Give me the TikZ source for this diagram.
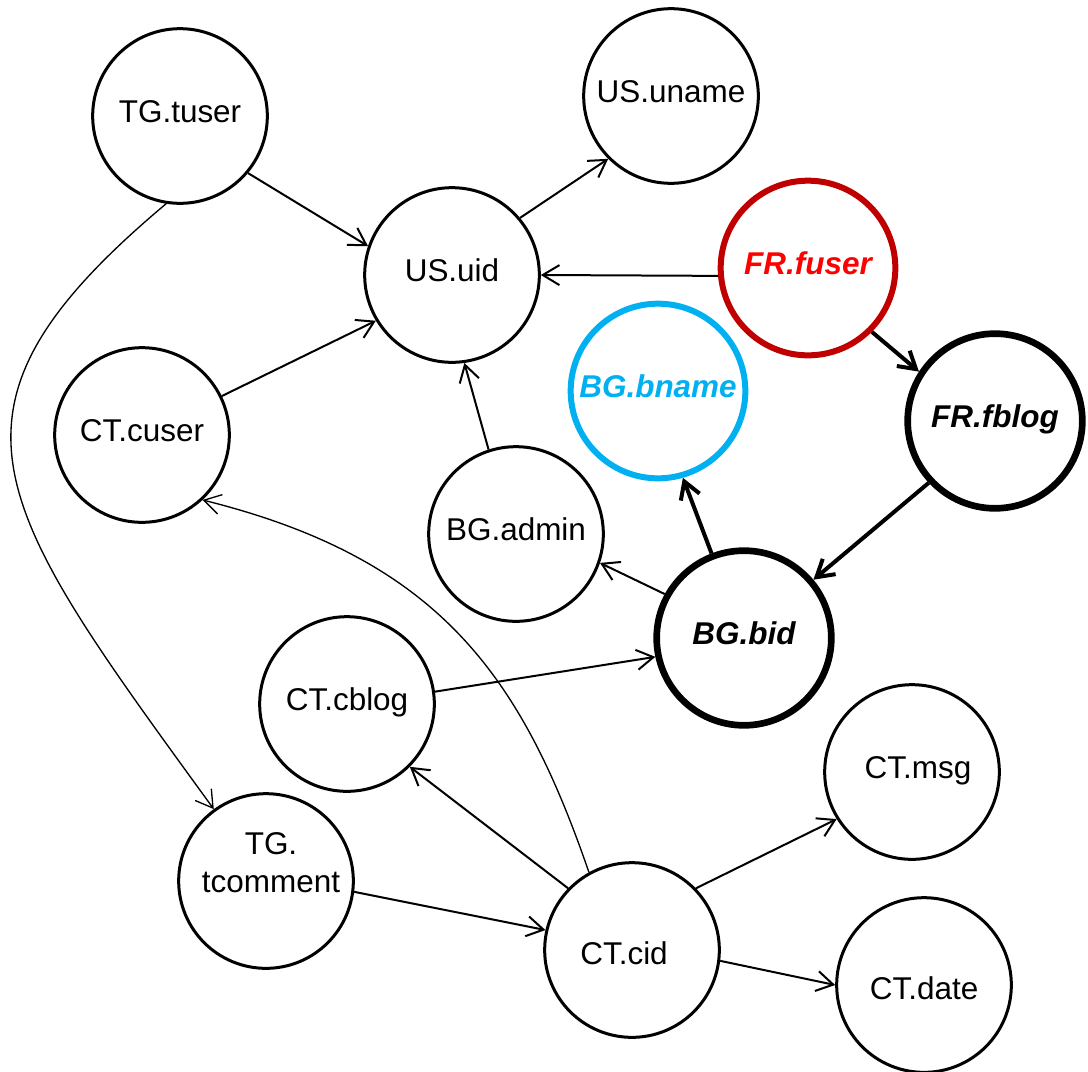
\documentclass[tikz,border=0pt]{standalone}
\usepackage{fontspec}
\setmainfont{Liberation Sans}
\usetikzlibrary{arrows.meta}
\definecolor{fuserring}{HTML}{C00000}
\definecolor{fusertext}{HTML}{FF0000}
\definecolor{bnameblue}{HTML}{00B0F0}
\begin{document}
\begin{tikzpicture}[x=0.75pt,y=0.75pt,
  attr/.style={circle, draw=black, line width=2.25pt, minimum size=131pt,
    inner sep=0pt, font=\fontsize{23.6pt}{28.3pt}\selectfont,
    text height=16.9pt, text depth=7.5pt},
  lowtext/.style={text height=21pt, text depth=0pt},
  keyattr/.style={attr, line width=5pt,
    font=\fontsize{23.6pt}{28.3pt}\selectfont\bfseries\itshape},
  fuserattr/.style={keyattr, draw=fuserring, line width=4.5pt, text=fusertext},
  bnameattr/.style={keyattr, draw=bnameblue, line width=4.5pt, text=bnameblue},
  twoline/.style={align=center, font=\fontsize{23.6pt}{28.3pt}\selectfont},
  link/.style={-{Straight Barb[length=12.5pt,width=15pt]}, line width=1.5pt},
  strong/.style={link, line width=3pt},
  curved/.style={link, line width=1pt},
]
\useasboundingbox (0,0) rectangle (1088,-1071);

% attribute nodes
\node[attr] (tuser) at (180,-116) {TG.tuser};
\node[attr] (uname) at (671,-96) {US.uname};
\node[attr] (uid) at (452,-275) {US.uid};
\node[fuserattr] (fuser) at (808,-268) {FR.fuser};
\node[bnameattr] (bname) at (658,-391) {BG.bname};
\node[keyattr] (fblog) at (995,-421) {FR.fblog};
\node[attr] (cuser) at (142,-435) {CT.cuser};
\node[attr] (admin) at (516,-534) {BG.admin};
\node[keyattr] (bid) at (744,-638) {BG.bid};
\node[attr] (cblog) at (347,-704) {CT.cblog};
\node[attr] (msg) at (912,-772) {\hspace*{9pt}CT.msg};
\node[attr, label={[twoline, xshift=3.75pt, yshift=13.9pt]center:TG.\\tcomment}]
  (tcomment) at (266,-881) {};
\node[attr, lowtext] (cid) at (632,-950) {CT.cid\hspace*{12pt}};
\node[attr, lowtext] (date) at (924,-985) {CT.date};

% dependencies
\draw[link] (tuser.-40) -- (uid.161);
\draw[link] (cuser.26) -- (uid.-149);
\draw[link] (admin.108) -- (uid.-82);
\draw[link] (uid.40) -- (uname.-135);
\draw[link] (fuser.185) -- (uid.0);
\draw[strong] (fuser.-45) -- (fblog.147);
\draw[strong] (fblog.-137) -- (bid.40);
\draw[strong] (bid.111) -- (bname.-74);
\draw[link] (bid.151) -- (admin.-19);
\draw[link] (cblog.8) -- (bid.-168);
\draw[link] (cid.136) -- (cblog.-45);
\draw[link] (tcomment.-7) -- (cid.167);
\draw[link] (cid.44) -- (msg.-148);
\draw[link] (cid.-7) -- (date.180);
\draw[curved] (cid.119) to[out=109, in=-14, in looseness=1.16] (cuser.-47);
\draw[curved] (tuser.261) to[out=220, in=126, out looseness=1.36, in looseness=1.6] (tcomment.126);
\end{tikzpicture}
\end{document}
